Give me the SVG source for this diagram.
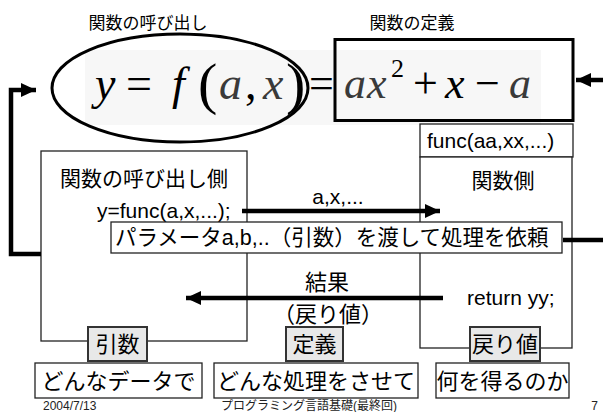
<svg xmlns="http://www.w3.org/2000/svg" width="603" height="412" viewBox="0 0 603 412">
<defs>
<marker id="ah" markerUnits="userSpaceOnUse" markerWidth="16" markerHeight="16" refX="15" refY="7" orient="auto">
<path d="M0,0 L15,7 L0,14 Z" fill="#000"/>
</marker>
</defs>
<style>
text{font-family:"Liberation Sans","Noto Sans CJK JP",sans-serif;fill:#000}
.t21{font-size:21px}
.t22{font-size:22px}
.box{fill:#fff;stroke:#222;stroke-width:1.3}
.lab{fill:#e8e8e8;stroke:#333;stroke-width:2}
.m{font-family:"Liberation Serif",serif;font-style:italic;font-size:44px}
.mu{font-family:"Liberation Serif",serif;font-size:44px}
.ml{font-family:"Liberation Serif",serif;font-style:italic;font-size:46px}
.mlu{font-family:"Liberation Serif",serif;font-size:46px}
.p{font-family:"Liberation Serif",serif;font-size:58px}
.g{fill:#3a3a3a}
.con{fill:none;stroke:#000;stroke-width:4.5}
.foot{font-size:12px;fill:#222}
</style>
<rect width="603" height="412" fill="#fff"/>

<g id="titles">
<text x="148" y="29" font-size="17" text-anchor="middle">関数の呼び出し</text>
<text x="412" y="29" font-size="17" text-anchor="middle">関数の定義</text>
</g>

<g id="formula">
<rect x="85" y="50" width="456" height="75" fill="#f7f7f7"/>
<text class="ml" x="95" y="99">y</text>
<text class="mlu" x="126" y="99">=</text>
<text class="ml" x="172" y="99">f</text>
<text class="p" x="198" y="103">(</text>
<text class="ml g" x="219" y="99">a</text>
<text class="mlu" x="245" y="99">,</text>
<text class="ml g" x="263" y="99">x</text>
<text class="p" x="286" y="103">)</text>
<text class="mu" x="309" y="98" font-size="40">=</text>
<text class="m g" x="344" y="98">a</text>
<text class="m g" x="367" y="98">x</text>
<text x="391" y="77" style="font-family:'Liberation Serif',serif;font-size:26px">2</text>
<text class="mu" x="413" y="98">+</text>
<text class="m" x="445" y="98">x</text>
<text class="mu" x="475" y="98">−</text>
<text class="m g" x="509" y="98">a</text>
</g>

<g id="call-ellipse">
<ellipse cx="180" cy="88" rx="128" ry="54" fill="none" stroke="#000" stroke-width="3"/>
</g>

<g id="def-box">
<rect x="335" y="39.5" width="238" height="81" fill="none" stroke="#000" stroke-width="3"/>
</g>

<g id="caller">
<rect class="box" x="41" y="151" width="206" height="190"/>
<text class="t21" x="60" y="186">関数の呼び出し側</text>
<text class="t21" x="97" y="218">y=func(a,x,...);</text>
</g>

<g id="func-head">
<rect class="box" x="420" y="124" width="153" height="33"/>
<text class="t21" x="427" y="148">func(aa,xx,...)</text>
</g>

<g id="func-body">
<rect class="box" x="420" y="157" width="152" height="191"/>
<text class="t21" x="503" y="188" text-anchor="middle">関数側</text>
<text class="t21" x="467" y="305">return yy;</text>
</g>

<g id="connectors">
<polyline class="con" points="41,254 11,254 11,90 36,90" marker-end="url(#ah)"/>
<line class="con" x1="603" y1="80" x2="576" y2="80" marker-end="url(#ah)"/>
<line class="con" x1="563" y1="240" x2="603" y2="240"/>
<line class="con" x1="242" y1="211" x2="440" y2="211" marker-end="url(#ah)"/>
<line class="con" x1="443" y1="298" x2="186" y2="298" marker-end="url(#ah)"/>
</g>

<g id="edge-labels">
<text class="t21" x="338" y="204" text-anchor="middle">a,x,...</text>
<text class="t22" x="327" y="290" text-anchor="middle">結果</text>
<text class="t22" x="328" y="322" text-anchor="middle">（戻り値）</text>
</g>

<g id="param-box">
<rect class="box" x="111" y="222" width="451" height="31"/>
<text x="115" y="245" font-size="21.5">パラメータa,b,..（引数）を渡して処理を依頼</text>
</g>

<g id="lab-hikisu">
<rect class="lab" x="88" y="327" width="59" height="34"/>
<text class="t22" x="117.5" y="352" text-anchor="middle">引数</text>
</g>
<g id="lab-teigi">
<rect class="lab" x="286" y="327" width="57" height="34"/>
<text class="t22" x="314.5" y="352" text-anchor="middle">定義</text>
</g>
<g id="lab-modorichi">
<rect class="lab" x="470" y="327" width="70" height="34"/>
<text class="t22" x="505" y="352" text-anchor="middle">戻り値</text>
</g>

<g id="q-data">
<rect class="box" x="35" y="363" width="167" height="35"/>
<text class="t22" x="118.5" y="389" text-anchor="middle">どんなデータで</text>
</g>
<g id="q-proc">
<rect class="box" x="214" y="363" width="204" height="35"/>
<text class="t22" x="316" y="389" text-anchor="middle">どんな処理をさせて</text>
</g>
<g id="q-get">
<rect class="box" x="436" y="363" width="133" height="35"/>
<text class="t22" x="502.5" y="389" text-anchor="middle">何を得るのか</text>
</g>

<g id="footer">
<text class="foot" x="43" y="410">2004/7/13</text>
<text class="foot" x="309" y="410" text-anchor="middle">プログラミング言語基礎(最終回)</text>
<text class="foot" x="598" y="410" text-anchor="end">7</text>
</g>
</svg>
